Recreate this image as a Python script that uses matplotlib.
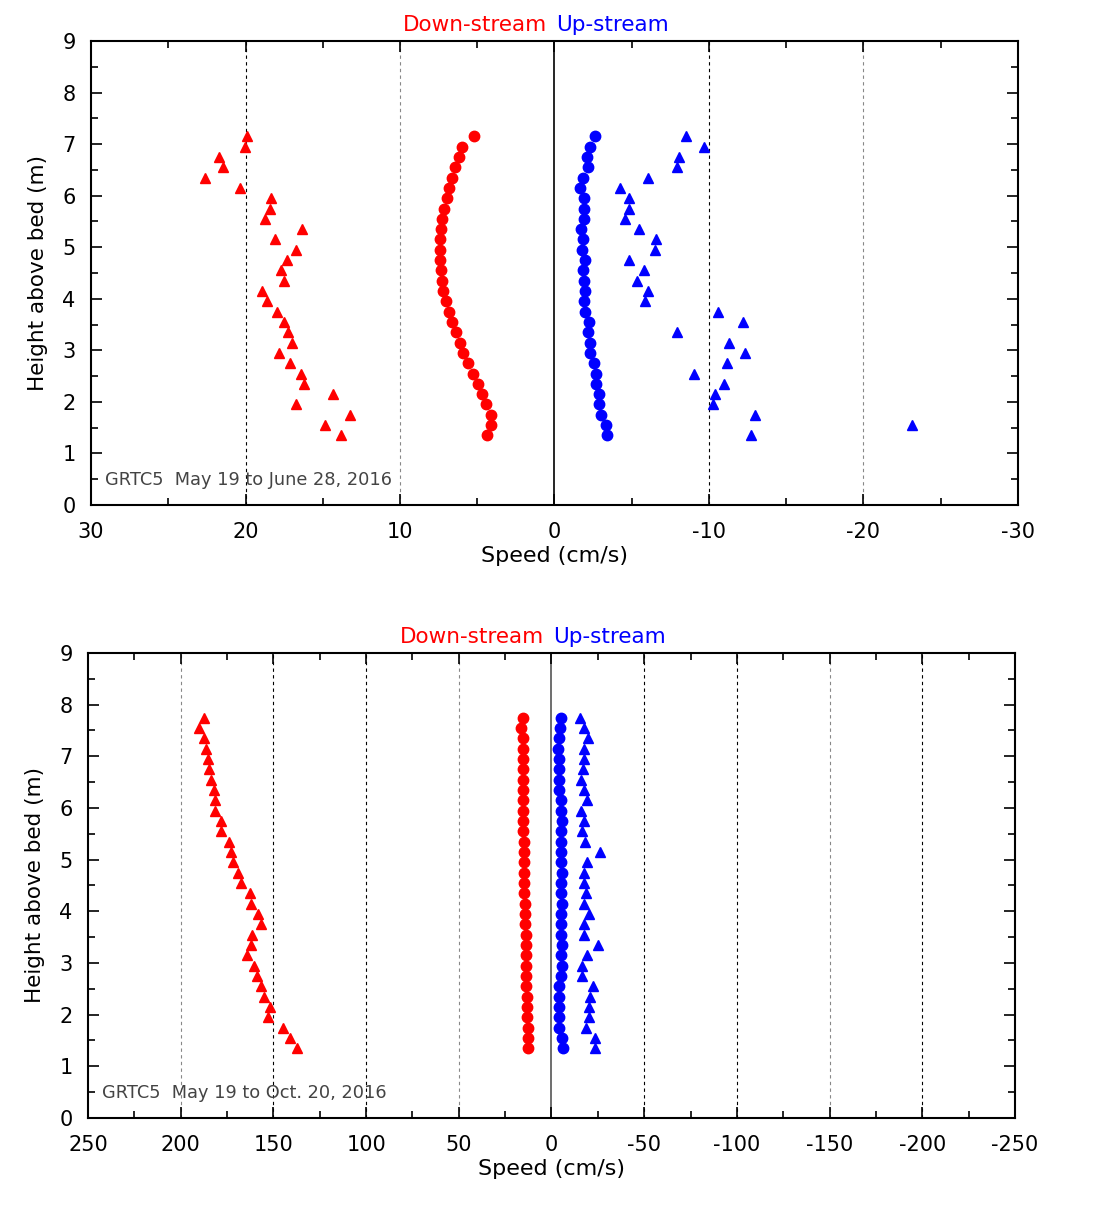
# Speed profiles at GRTC5: down-stream vs up-stream
# red = down-stream, blue = up-stream; circles = mean, triangles = max

import numpy as np
import matplotlib.pyplot as plt
from matplotlib.ticker import MultipleLocator

# --- Panel 1: May 19 to June 28, 2016 (heights 1.35 .. 7.15 m, step 0.2)
height_1 = [1.35, 1.55, 1.75, 1.95, 2.15, 2.35, 2.55, 2.75, 2.95, 3.15,
            3.35, 3.55, 3.75, 3.95, 4.15, 4.35, 4.55, 4.75, 4.95, 5.15,
            5.35, 5.55, 5.75, 5.95, 6.15, 6.35, 6.55, 6.75, 6.95, 7.15]
down_mean_1 = [4.34, 4.08, 4.14, 4.42, 4.70, 4.96, 5.29, 5.61, 5.89, 6.13,
               6.39, 6.65, 6.84, 7.05, 7.20, 7.29, 7.36, 7.38, 7.40, 7.42,
               7.33, 7.29, 7.14, 6.97, 6.82, 6.65, 6.43, 6.19, 6.00, 5.22]
down_max_1 = [13.83, 14.84, 13.22, 16.76, 14.35, 16.23, 16.42, 17.13, 17.84, 17.02,
              17.24, 17.52, 17.95, 18.62, 18.92, 17.52, 17.71, 17.33, 16.76, 18.12,
              16.33, 18.73, 18.43, 18.32, 20.34, 22.65, 21.45, 21.73, 20.02, 19.92]
up_mean_1 = [-3.41, -3.34, -2.98, -2.87, -2.91, -2.70, -2.67, -2.57, -2.31, -2.31,
             -2.20, -2.24, -2.00, -1.92, -1.96, -1.88, -1.83, -1.98, -1.79, -1.86,
             -1.73, -1.92, -1.88, -1.92, -1.68, -1.83, -2.16, -2.09, -2.33, -2.63]
up_max_1 = [-12.69, -23.17, -12.99, -10.27, -10.36, -10.94, -9.06, -11.18, -12.30, -11.28,
            -7.96, -12.19, -10.57, -5.89, -6.06, -5.37, -5.80, -4.85, -6.49, -6.58,
            -5.46, -4.57, -4.85, -4.85, -4.25, -6.06, -7.96, -8.09, -9.67, -8.48]

# --- Panel 2: May 19 to Oct. 20, 2016 (heights 1.35 .. 7.75 m, step 0.2)
height_2 = [1.35, 1.55, 1.75, 1.95, 2.15, 2.35, 2.55, 2.75, 2.95, 3.15, 3.35,
            3.55, 3.75, 3.95, 4.15, 4.35, 4.55, 4.75, 4.95, 5.15, 5.35, 5.55,
            5.75, 5.95, 6.15, 6.35, 6.55, 6.75, 6.95, 7.15, 7.35, 7.55, 7.75]
down_mean_2 = [12.6, 12.8, 12.4, 13.1, 13.1, 13.3, 13.5, 13.7, 13.7, 14.0, 14.0,
               14.0, 14.2, 14.2, 14.2, 14.6, 14.6, 14.6, 14.9, 14.9, 14.9, 15.3,
               15.3, 15.3, 15.3, 15.3, 15.3, 15.3, 15.3, 15.3, 15.3, 16.2, 15.3]
up_mean_2 = [-6.3, -5.9, -4.1, -4.1, -4.1, -4.1, -4.1, -5.2, -5.6, -5.2, -5.6,
             -5.2, -5.2, -4.9, -5.6, -5.2, -5.4, -5.6, -5.2, -5.2, -5.2, -4.9,
             -5.6, -5.2, -4.9, -4.1, -4.1, -4.1, -4.1, -3.4, -4.1, -4.5, -4.9]
up_max_2 = [-23.2, -23.2, -18.5, -20.0, -20.3, -21.0, -22.5, -16.4, -16.4, -18.9, -25.0,
            -17.8, -17.4, -20.0, -17.4, -18.5, -17.4, -17.4, -18.9, -26.4, -18.2, -16.7,
            -17.8, -16.0, -19.2, -17.4, -16.0, -17.1, -17.4, -17.4, -19.6, -17.4, -15.6]
down_max_2 = [137.2, 141.2, 144.7, 152.8, 151.6, 155.2, 156.9, 158.7, 160.2, 164.1, 162.0,
              161.6, 156.9, 158.2, 161.8, 162.4, 167.7, 169.0, 171.7, 172.6, 174.0, 178.2,
              178.5, 181.6, 181.6, 182.1, 183.6, 184.8, 185.2, 186.6, 187.2, 189.9, 187.5]

labels = ["GRTC5  May 19 to June 28, 2016", "GRTC5  May 19 to Oct. 20, 2016"]

plt.rcParams['font.family'] = 'DejaVu Sans'

fig = plt.figure(figsize=(10.94, 12.23), dpi=100)
ax1 = fig.add_axes([0.0832, 0.5871, 0.8473, 0.3794])
ax2 = fig.add_axes([0.0804, 0.0859, 0.8474, 0.3802])


def style_axis(ax, lim, major, minor, grid_cols, zero_col, label):
    ax.set_xlim(lim, -lim)
    ax.set_ylim(0, 9)
    ax.xaxis.set_major_locator(MultipleLocator(major))
    ax.xaxis.set_minor_locator(MultipleLocator(minor))
    ax.yaxis.set_major_locator(MultipleLocator(1))
    ax.yaxis.set_minor_locator(MultipleLocator(0.5))
    ax.tick_params(which='both', direction='in', top=True, right=True,
                   labelsize=15, width=1.2, color='black')
    ax.tick_params(which='major', length=8)
    ax.tick_params(which='minor', length=5)
    ax.tick_params(axis='x', which='major', pad=12)
    ax.tick_params(axis='y', which='major', pad=11)
    ax.xaxis.set_major_formatter(plt.FuncFormatter(lambda v, p: f"{v:g}"))
    for s in ax.spines.values():
        s.set_linewidth(1.5)
    # dashed verticals at the inner major ticks
    ticks = np.arange(lim - major, -lim, -major)
    for xv, c in zip(ticks, grid_cols):
        if abs(xv) < 1e-9:
            ax.axvline(0, color=zero_col, lw=1.2, zorder=1)
        else:
            ax.axvline(xv, color=c, lw=0.8, ls=(0, (3, 3)), zorder=1)
    ax.set_xlabel("Speed (cm/s)", fontsize=16, labelpad=3)
    ax.set_ylabel("Height above bed (m)", fontsize=15.5, labelpad=10)
    ax.text(0.015, 0.035, label, transform=ax.transAxes, fontsize=12.8,
            color='#444444', va='bottom', ha='left')
    # heading: coloured Down-stream / Up-stream split at the zero line
    ax.annotate("Down-stream", xy=(0, 1), xycoords=('data', 'axes fraction'),
                xytext=(-5, 4), textcoords='offset points',
                ha='right', va='bottom', color='red', fontsize=15.5)
    ax.annotate("Up-stream", xy=(0, 1), xycoords=('data', 'axes fraction'),
                xytext=(1, 4), textcoords='offset points',
                ha='left', va='bottom', color='blue', fontsize=15.5)


style_axis(ax1, 30, 10, 5, ['black', '#888888', 'black', 'black', '#888888'],
           'black', labels[0])
style_axis(ax2, 250, 50, 25,
           ['#888888', 'black', 'black', '#888888', 'black', 'black', 'black',
            '#888888', 'black'], '#555555', labels[1])

ax1.plot(down_max_1, height_1, '^', color='red', ms=6.5, ls='none', zorder=3)
ax1.plot(down_mean_1, height_1, 'o', color='red', ms=7.5, ls='none', zorder=3)
ax1.plot(up_mean_1, height_1, 'o', color='blue', ms=7.5, ls='none', zorder=3)
ax1.plot(up_max_1, height_1, '^', color='blue', ms=6.5, ls='none', zorder=3)

ax2.plot(down_max_2, height_2, '^', color='red', ms=6.5, ls='none', zorder=3)
ax2.plot(down_mean_2, height_2, 'o', color='red', ms=7.5, ls='none', zorder=3)
ax2.plot(up_mean_2, height_2, 'o', color='blue', ms=7.5, ls='none', zorder=3)
ax2.plot(up_max_2, height_2, '^', color='blue', ms=6.5, ls='none', zorder=3)

fig.savefig("out.png", dpi=100)
